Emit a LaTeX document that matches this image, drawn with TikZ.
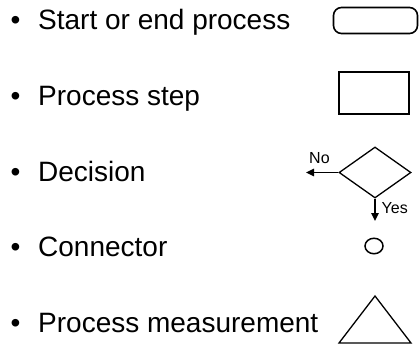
\documentclass[tikz,border=0pt]{standalone}
\usepackage{fontspec}
\setmainfont{Liberation Sans}
\usetikzlibrary{shapes.geometric,arrows.meta}
\begin{document}
\begin{tikzpicture}[x=1pt,y=-1pt,
  item/.style={anchor=base west,inner sep=0pt,font=\fontsize{28}{30}\selectfont},
  dot/.style={anchor=base,inner sep=0pt,font=\fontsize{28}{30}\selectfont},
  tag/.style={inner sep=0pt,font=\fontsize{16}{18}\selectfont},
  flow/.style={line width=1.6pt,-{Triangle[length=8pt,width=7.5pt]}}]
\useasboundingbox (0,0) rectangle (419,350);
% bullet list
\foreach \y/\txt [count=\i] in {30/Start or end process,105/Process step,181/Decision,256.5/Connector,332/Process measurement}{
  \node[dot] (b\i) at (15.5,\y) {•};
  \node[item] (t\i) at (38,\y) {\txt};
}
% terminator
\node[draw,line width=1.6pt,rounded corners=8pt,minimum width=84pt,minimum height=26pt,inner sep=0pt] (term) at (375.5,20.5) {};
% process step
\node[draw,line width=2pt,minimum width=70pt,minimum height=41pt,inner sep=0pt] (proc) at (373.5,93) {};
% decision
\node[draw,diamond,line width=1.3pt,minimum width=72pt,minimum height=51pt,inner sep=0pt] (dec) at (375,172.5) {};
\coordinate (noend) at (306,172.5);
\coordinate (yesend) at (375,221);
\draw[flow] (dec.west) -- (noend);
\draw[flow] (dec.south) -- (yesend);
\node[tag,anchor=base west] (no) at (309,163.3) {No};
\node[tag,anchor=base west] (yes) at (381.5,213.3) {Yes};
% connector
\node[draw,ellipse,line width=1.5pt,minimum width=18pt,minimum height=15.5pt,inner sep=0pt] (conn) at (374,246) {};
% process measurement
\coordinate (ta) at (375,296);
\coordinate (tl) at (339,343);
\coordinate (tr) at (411,343);
\draw[line width=1.3pt,line join=miter] (ta) -- (tr) -- (tl) -- cycle;
\end{tikzpicture}
\end{document}
